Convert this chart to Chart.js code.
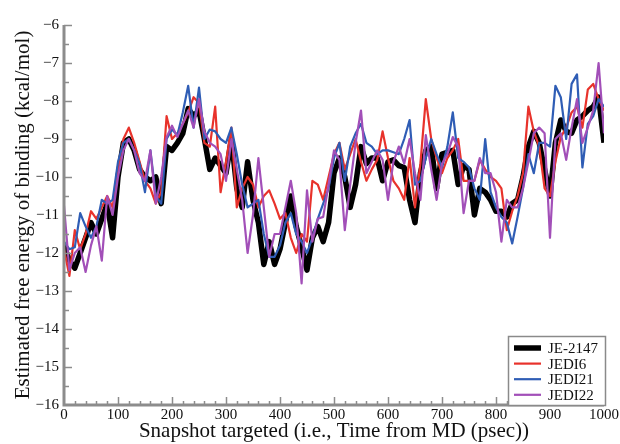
<!DOCTYPE html>
<html>
<head>
<meta charset="utf-8">
<script src="https://cdn.jsdelivr.net/npm/chart.js@4/dist/chart.umd.min.js"></script>
<style>
  html, body { margin: 0; padding: 0; background: #fff; }
  #wrap { width: 620px; height: 444px; position: relative; }
</style>
</head>
<body>
<div id="wrap"><canvas id="c"></canvas></div>
<script>
// Snapshot times (psec), one every 10 psec
const snapshots = [];
for (let t = 0; t <= 1000; t += 10) snapshots.push(t);

// Estimated binding free energy (kcal/mol) per snapshot
const je2147 = [
  -11.8, -12.2, -12.4, -12.0, -11.6, -11.2, -11.5, -11.1, -10.7, -11.6,
  -10.0, -9.1, -9.0, -9.3, -9.8, -10.0, -10.1, -10.0, -10.7, -9.2,
  -9.3, -9.1, -8.85, -8.2, -8.4, -8.25, -9.0, -9.8, -9.5, -9.7,
  -9.9, -9.0, -10.3, -10.8, -9.6, -10.6, -11.2, -12.3, -11.7, -12.3,
  -11.9, -11.2, -10.5, -11.3, -11.85, -12.45, -11.6, -11.3, -11.7, -11.2,
  -9.9, -9.5, -10.0, -10.8, -10.2, -9.2, -9.65, -9.5, -9.5, -10.1,
  -9.6, -9.55, -9.7, -9.75, -10.6, -11.2, -9.9, -9.3, -9.2, -10.3,
  -9.4, -9.35, -9.3, -10.2, -9.7, -9.8, -11.0, -10.3, -10.4, -10.6,
  -10.9, -10.9, -11.05, -10.7, -10.6, -10.0, -9.2, -8.8, -9.1, -9.8,
  -10.5, -9.1, -8.5, -8.8, -8.85, -8.5, -8.4, -8.25, -8.15, -7.9,
  -9.1
];
const jedi6 = [
  -11.9, -12.6, -11.4, -11.9, -11.5, -10.9, -11.1, -10.8, -10.5, -10.8,
  -9.8, -9.0, -8.7, -9.1, -9.6, -10.1, -10.3, -10.7, -10.4, -8.4,
  -9.0, -8.85, -8.6, -8.3, -7.9, -8.05, -9.1, -9.2, -8.15, -10.4,
  -9.6, -8.7, -10.8, -10.3, -10.0, -10.2, -10.8, -10.5, -10.35, -10.7,
  -11.1, -10.95, -11.6, -12.0, -11.5, -11.7, -10.1, -10.2, -10.6, -10.0,
  -9.4, -9.1, -9.8, -9.4, -9.0, -9.6, -10.1, -9.8, -9.55, -8.8,
  -9.5, -10.1, -10.3, -10.6, -9.5, -10.8, -9.65, -7.95, -9.0, -9.5,
  -9.9, -9.5, -9.3, -9.0, -10.1, -10.1, -10.1, -9.55, -9.8, -10.0,
  -10.1, -10.3, -11.4, -10.9, -10.5, -9.9, -8.15, -8.8, -9.2, -10.3,
  -10.5, -9.6, -8.95, -8.7, -8.3, -8.15, -8.7, -7.7, -7.55, -7.95,
  -8.25
];
const jedi21 = [
  -11.7, -11.9, -11.85, -10.95, -11.3, -11.6, -11.3, -10.6, -10.7, -10.6,
  -9.6, -9.1, -9.0, -9.3, -9.65, -10.4, -9.3, -10.5, -10.7, -9.0,
  -8.75, -8.9, -8.3, -7.6, -8.7, -7.65, -9.0, -8.75, -8.8, -9.0,
  -9.1, -8.7, -9.4, -10.2, -10.8, -10.7, -10.6, -11.5, -12.1, -12.1,
  -11.8, -11.2, -10.95, -11.5, -11.7, -12.0, -11.6, -11.1, -10.7, -10.3,
  -9.5, -9.1, -10.1, -9.2, -8.85, -8.6, -9.1, -9.2, -9.4, -9.3,
  -9.3, -9.35, -9.4, -9.0, -8.5, -10.2, -10.1, -9.5, -9.0, -9.4,
  -9.75, -9.2, -8.3, -9.5, -9.6, -9.75, -10.3, -10.6, -9.0, -10.4,
  -10.8, -11.05, -11.2, -11.75, -11.05, -10.3, -9.4, -9.9, -9.1, -9.1,
  -9.2, -7.6, -7.9, -9.0, -7.55, -7.3, -9.75, -8.6, -8.4, -7.95,
  -8.15
];
const jedi22 = [
  -10.75, -12.45, -12.0, -11.85, -12.5, -11.8, -11.3, -12.2, -10.5, -11.0,
  -10.0, -9.3, -9.0, -9.3, -9.9, -10.1, -9.3, -10.7, -10.0, -8.95,
  -8.65, -8.95, -8.6, -8.25, -8.7, -7.95, -8.8, -9.1, -9.2, -9.4,
  -10.1, -9.0, -9.8, -10.6, -12.0, -11.0, -9.5, -10.8, -12.1, -11.5,
  -11.5, -10.8, -10.1, -10.95, -12.8, -10.35, -11.7, -11.1, -11.05, -10.2,
  -9.3, -9.55, -11.4, -10.2, -9.1, -8.25, -9.9, -9.6, -9.3, -9.55,
  -10.6, -9.6, -9.2, -9.65, -9.0, -9.9, -10.6, -8.9, -9.8, -10.6,
  -9.65, -9.4, -8.95, -9.2, -10.95, -10.1, -10.1, -9.5, -9.9, -9.9,
  -10.4, -11.7, -10.6, -10.8, -10.8, -10.3, -9.6, -8.85, -8.7, -8.85,
  -11.6, -9.0, -8.85, -9.55, -8.7, -7.95, -9.1, -8.7, -8.25, -7.0,
  -8.85
];

const seriesNames = ['JE-2147', 'JEDI6', 'JEDI21', 'JEDI22'];
const xTickLabels = [0, 100, 200, 300, 400, 500, 600, 700, 800, 900, 1000];
const yTickLabels = [-16, -15, -14, -13, -12, -11, -10, -9, -8, -7, -6];

const serif = "'Liberation Serif', 'Times New Roman', serif";
const axisGray = '#8c8c8c';

function pts(values) {
  return snapshots.map((t, i) => ({ x: t, y: values[i] }));
}

// Axis lines with inward major/minor ticks
const axisFrame = {
  id: 'axisFrame',
  afterDatasetsDraw(chart) {
    const { ctx, chartArea: a, scales: { x, y } } = chart;
    ctx.save();
    ctx.strokeStyle = axisGray;
    ctx.lineWidth = 1.5;
    for (let v = 20; v < 1000; v += 20) {
      const px = Math.round(x.getPixelForValue(v)) + 0.5;
      const len = v % 100 === 0 ? 8 : 4;
      ctx.beginPath(); ctx.moveTo(px, a.bottom); ctx.lineTo(px, a.bottom - len); ctx.stroke();
    }
    for (let v = -15.5; v <= -6; v += 0.5) {
      const py = Math.round(y.getPixelForValue(v)) + 0.5;
      const len = Number.isInteger(v) ? 8 : 5;
      ctx.beginPath(); ctx.moveTo(a.left, py); ctx.lineTo(a.left + len, py); ctx.stroke();
    }
    ctx.lineWidth = 3;
    ctx.beginPath();
    ctx.moveTo(a.left, a.top);
    ctx.lineTo(a.left, a.bottom);
    ctx.lineTo(a.right, a.bottom);
    ctx.stroke();
    ctx.restore();
  }
};

// Boxed legend in the lower-right corner of the plot
const boxLegend = {
  id: 'boxLegend',
  afterDraw(chart) {
    const { ctx, chartArea: a } = chart;
    const w = 98, h = 70;
    const bx = a.right - w + 2, by = a.bottom - h + 1;
    ctx.save();
    ctx.fillStyle = '#fff';
    ctx.fillRect(bx, by, w, h);
    ctx.strokeStyle = '#8a8a8a';
    ctx.lineWidth = 1.5;
    ctx.strokeRect(bx + 0.5, by + 0.5, w - 1, h - 1);
    ctx.font = '15px ' + serif;
    ctx.textBaseline = 'middle';
    chart.data.datasets.forEach((ds, i) => {
      const ry = by + 12 + i * 15.6;
      ctx.strokeStyle = ds.borderColor;
      ctx.lineWidth = ds.borderWidth;
      ctx.lineCap = 'butt';
      ctx.beginPath(); ctx.moveTo(bx + 6, ry); ctx.lineTo(bx + 33, ry); ctx.stroke();
      ctx.fillStyle = '#111';
      ctx.fillText(ds.label, bx + 40, ry + 1);
    });
    ctx.restore();
  }
};

new Chart(document.getElementById('c'), {
  type: 'line',
  data: {
    datasets: [
      { label: seriesNames[0], data: pts(je2147), borderColor: '#000000', borderWidth: 5.5, order: 4 },
      { label: seriesNames[1], data: pts(jedi6), borderColor: '#e8322b', borderWidth: 2.2, order: 3 },
      { label: seriesNames[2], data: pts(jedi21), borderColor: '#2f5db5', borderWidth: 2.2, order: 2 },
      { label: seriesNames[3], data: pts(jedi22), borderColor: '#a24fb8', borderWidth: 2.2, order: 1 }
    ]
  },
  options: {
    responsive: true,
    maintainAspectRatio: false,
    animation: false,
    events: [],
    layout: { padding: { top: 25, right: 16, left: 0, bottom: 0 } },
    elements: {
      point: { radius: 0 },
      line: { tension: 0, borderJoinStyle: 'round', fill: false }
    },
    plugins: { legend: { display: false }, tooltip: { enabled: false } },
    scales: {
      x: {
        type: 'linear', min: 0, max: 1000,
        grid: { display: false, drawTicks: false },
        border: { display: false },
        afterBuildTicks: s => { s.ticks = xTickLabels.map(v => ({ value: v })); },
        afterFit: s => { s.height = 39; },
        ticks: {
          autoSkip: false, maxRotation: 0, padding: 1, color: '#111',
          font: { family: serif, size: 15 },
          callback: v => String(v)
        },
        title: {
          display: true, text: 'Snapshot targeted (i.e., Time from MD (psec))',
          color: '#111', font: { family: serif, size: 21 }, padding: { top: 0, bottom: 0 }
        }
      },
      y: {
        min: -16, max: -6,
        grid: { display: false, drawTicks: false },
        border: { display: false },
        afterBuildTicks: s => { s.ticks = yTickLabels.map(v => ({ value: v })); },
        afterFit: s => { s.width = 64; },
        ticks: {
          padding: 5, color: '#111',
          font: { family: serif, size: 15 },
          callback: v => String(v).replace('-', '\u2212')
        },
        title: {
          display: true, text: 'Estimated free energy of binding (kcal/mol)',
          color: '#111', font: { family: serif, size: 21 }, padding: { top: 11, bottom: 0 }
        }
      }
    }
  },
  plugins: [axisFrame, boxLegend]
});
</script>
</body>
</html>
